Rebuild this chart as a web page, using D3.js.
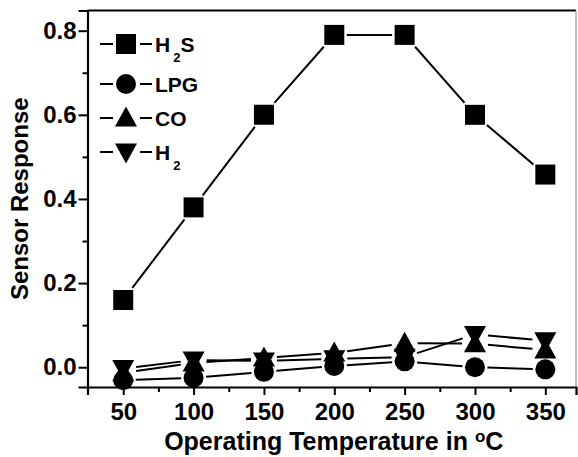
<!DOCTYPE html>
<html>
<head>
<meta charset="utf-8">
<script src="https://cdn.jsdelivr.net/npm/d3@7/dist/d3.min.js"></script>
<style>
  html, body { margin: 0; padding: 0; background: #fff; }
  svg { display: block; }
  text { font-family: "Liberation Sans", Arial, Helvetica, sans-serif; font-weight: bold; fill: #000; }
</style>
</head>
<body>
<svg id="chart" width="578" height="457"></svg>
<script>
// Operating temperature (°C)
const temperatures = [50, 100, 150, 200, 250, 300, 350];
// Sensor response for each test gas
const h2sResponse = [0.160, 0.380, 0.600, 0.790, 0.790, 0.600, 0.458];
const lpgResponse = [-0.031, -0.025, -0.011, 0.003, 0.014, 0.000, -0.005];
const coResponse  = [-0.013, 0.010, 0.022, 0.034, 0.057, 0.056, 0.041];
const h2Response  = [-0.003, 0.017, 0.015, 0.020, 0.024, 0.078, 0.063];
// Axis ticks
const xTickValues = [50, 100, 150, 200, 250, 300, 350];
const xMinorTicks = [75, 125, 175, 225, 275, 325];
const yTickValues = [0.0, 0.2, 0.4, 0.6, 0.8];
const yMinorTicks = [0.1, 0.3, 0.5, 0.7];
const yTickLabels = ["0.0", "0.2", "0.4", "0.6", "0.8"];

const series = [
  { name: "H", sub: "2", tail: "S", shape: "square", values: h2sResponse },
  { name: "LPG", sub: "", tail: "", shape: "circle", values: lpgResponse },
  { name: "CO", sub: "", tail: "", shape: "triangleUp", values: coResponse },
  { name: "H", sub: "2", tail: "", shape: "triangleDown", values: h2Response }
];

const svg = d3.select("#chart");
const plotLeft = 87.5, plotRight = 576, plotTop = 10.5, plotBottom = 387;

const x = d3.scaleLinear().domain([24.6, 371.8]).range([plotLeft, plotRight]);
const y = d3.scaleLinear().domain([-0.047, 0.848]).range([plotBottom, plotTop]);

// Marker geometry
const SQ = 10, CR = 10, TW = 11, TH = 9.5;
function markerPath(shape, cx, cy) {
  switch (shape) {
    case "square":
      return `M${cx - SQ},${cy - SQ}h${2 * SQ}v${2 * SQ}h${-2 * SQ}Z`;
    case "circle":
      return `M${cx - CR},${cy}a${CR},${CR} 0 1,0 ${2 * CR},0a${CR},${CR} 0 1,0 ${-2 * CR},0Z`;
    case "triangleUp":
      return `M${cx},${cy - TH - 2}L${cx + TW},${cy + TH - 1}L${cx - TW},${cy + TH - 1}Z`;
    case "triangleDown":
      return `M${cx},${cy + TH + 2}L${cx + TW},${cy - TH + 1}L${cx - TW},${cy - TH + 1}Z`;
  }
}
// distance from marker centre to its outline along unit direction (ux, uy)
function reach(shape, ux, uy) {
  if (shape === "square") return SQ / Math.max(Math.abs(ux), Math.abs(uy));
  if (shape === "circle") return CR;
  return 10.5;
}

// Frame and axes
const frame = svg.append("g").attr("stroke", "#000").attr("fill", "none");
frame.append("line").attr("x1", plotLeft).attr("x2", plotRight).attr("y1", plotTop).attr("y2", plotTop).attr("stroke-width", 2);
frame.append("line").attr("x1", plotRight).attr("x2", plotRight).attr("y1", plotTop).attr("y2", plotBottom).attr("stroke-width", 1.2).attr("stroke", "#999");

const xAxis = svg.append("g").attr("transform", `translate(0,${plotBottom})`)
  .call(d3.axisBottom(x).tickValues(xTickValues).tickSize(8).tickPadding(8).tickFormat(d3.format("d")));
const xMinor = svg.append("g").attr("transform", `translate(0,${plotBottom})`)
  .call(d3.axisBottom(x).tickValues(xMinorTicks).tickSize(5).tickFormat(""));
const yAxis = svg.append("g").attr("transform", `translate(${plotLeft},0)`)
  .call(d3.axisLeft(y).tickValues(yTickValues).tickSize(9).tickPadding(2).tickFormat((d, i) => yTickLabels[i]));
const yMinor = svg.append("g").attr("transform", `translate(${plotLeft},0)`)
  .call(d3.axisLeft(y).tickValues(yMinorTicks).tickSize(5).tickFormat(""));

[xAxis, xMinor, yAxis, yMinor].forEach(g => {
  g.select(".domain").attr("stroke-width", 2.2).attr("stroke", "#000");
  g.selectAll(".tick line").attr("stroke-width", 2).attr("stroke", "#000");
  g.selectAll(".tick text").style("font-size", "24px").style("font-weight", "bold")
    .style("font-family", '"Liberation Sans", Arial, sans-serif').attr("fill", "#000");
});
xMinor.select(".domain").remove();
yMinor.select(".domain").remove();

// Series lines (segments stop short of the markers) and markers
const plot = svg.append("g");
series.forEach(s => {
  const pts = temperatures.map((t, i) => [x(t), y(s.values[i])]);
  const segs = d3.pairs(pts).map(([a, b]) => {
    const dx = b[0] - a[0], dy = b[1] - a[1], L = Math.hypot(dx, dy);
    const ux = dx / L, uy = dy / L;
    const g = reach(s.shape, ux, uy) + 2.5;
    return [[a[0] + ux * g, a[1] + uy * g], [b[0] - ux * g, b[1] - uy * g]];
  }).filter(([a, b]) => (b[0] - a[0]) > 0);
  plot.selectAll(null).data(segs).enter().append("line")
    .attr("x1", d => d[0][0]).attr("y1", d => d[0][1])
    .attr("x2", d => d[1][0]).attr("y2", d => d[1][1])
    .attr("stroke", "#000").attr("stroke-width", 2);
});
series.forEach(s => {
  plot.selectAll(null).data(temperatures.map((t, i) => [x(t), y(s.values[i])])).enter()
    .append("path").attr("d", d => markerPath(s.shape, d[0], d[1])).attr("fill", "#000");
});

// Legend
const legendY = [44, 84, 118, 152];
const legend = svg.append("g");
series.forEach((s, i) => {
  const ly = legendY[i], mx = 126;
  legend.append("line").attr("x1", 100).attr("x2", 113).attr("y1", ly).attr("y2", ly).attr("stroke", "#000").attr("stroke-width", 2);
  legend.append("line").attr("x1", 140).attr("x2", 152).attr("y1", ly).attr("y2", ly).attr("stroke", "#000").attr("stroke-width", 2);
  legend.append("path").attr("d", markerPath(s.shape, mx, ly)).attr("fill", "#000");
  const t = legend.append("text").attr("x", 155).attr("y", ly + 7.5).style("font-size", "21px");
  t.append("tspan").text(s.name);
  if (s.sub) {
    t.append("tspan").text(s.sub).style("font-size", "13px").attr("dy", 10).attr("dx", 3);
    if (s.tail) t.append("tspan").text(s.tail).attr("dy", -10).attr("dx", 0);
  }
});

// Axis titles
const xt = svg.append("text").attr("x", (plotLeft + plotRight) / 2 + 2).attr("y", 450)
  .attr("text-anchor", "middle").style("font-size", "25px");
xt.append("tspan").text("Operating Temperature in ");
xt.append("tspan").text("o").style("font-size", "17px").attr("dy", -8);
xt.append("tspan").text("C").attr("dy", 8);

svg.append("text").attr("transform", `translate(28,${(plotTop + plotBottom) / 2}) rotate(-90)`)
  .attr("text-anchor", "middle").style("font-size", "24px").text("Sensor Response");
</script>
</body>
</html>
